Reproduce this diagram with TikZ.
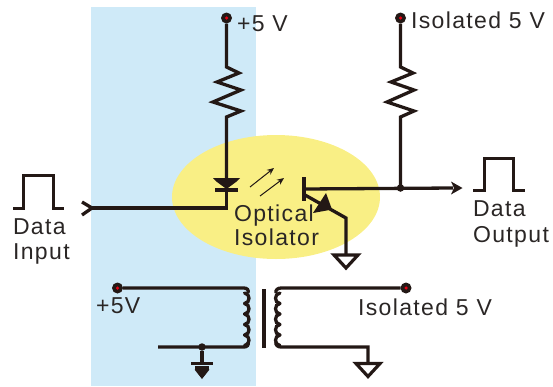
\documentclass[tikz,border=0pt]{standalone}
\usepackage{fontspec}
\setmainfont[LetterSpace=6]{Liberation Sans}
\usetikzlibrary{arrows.meta}
\definecolor{ink}{HTML}{231815}
\definecolor{txt}{HTML}{2A2625}
\definecolor{bluebg}{HTML}{CFEAF8}
\definecolor{yellowbg}{HTML}{F9EF85}
\definecolor{termred}{HTML}{E60012}
\tikzset{
  wire/.style={draw=ink,line width=3.3pt,line join=miter},
  lbl/.style={anchor=base west,inner sep=0pt,outer sep=0pt,font=\fontsize{23}{23}\selectfont,text=txt},
  term/.style={circle,fill=ink,minimum size=11pt,inner sep=0pt,outer sep=0pt},
  termdot/.style={circle,fill=termred,minimum size=3.5pt,inner sep=0pt},
  jct/.style={circle,fill=ink,minimum size=7.5pt,inner sep=0pt,outer sep=0pt},
  lightarrow/.style={draw=ink,line width=1pt,-{Stealth[length=7pt,width=6pt]}},
  hollowgnd/.style={draw=ink,line width=3.2pt,fill=white,line join=miter}
}
\begin{document}
\begin{tikzpicture}[x=1pt,y=-1pt]
\useasboundingbox (0,0) rectangle (553,386);
\fill[bluebg] (91,7) rectangle (256,386);
\fill[yellowbg] (276,197) ellipse [x radius=104,y radius=62];

% supply terminals
\node[term] (vcc) at (226.5,18) {};
\node[termdot] at (vcc) {};
\node[term] (iso) at (400.5,18) {};
\node[termdot] at (iso) {};
\node[term] (vcct) at (117.5,288) {};
\node[termdot] at (vcct) {};
\node[term] (isot) at (406,288) {};
\node[termdot] at (isot) {};

% input resistor and LED
\coordinate (r1a) at (226.5,67);
\coordinate (led) at (226.5,178);
\coordinate (ledout) at (226.5,208);
\coordinate (inp) at (92,208);
\draw[wire] (vcc) -- (r1a) -- (239,73) -- (217,82) -- (241,90) -- (213,102) -- (241,111) -- (226.5,117) -- (led);
\fill[ink] (213,178) -- (240,178) -- (236,182) -- (226.5,189) -- (217,182) -- cycle;
\draw[ink,line width=3.6pt] (215,190) -- (238,190);
\draw[wire] (226.5,190) -- (ledout) -- (inp);
\draw[wire] (82,202) -- (inp) -- (82,215);

% light arrows
\coordinate (la1) at (250,187);
\coordinate (lb1) at (274,168);
\coordinate (la2) at (260,196);
\coordinate (lb2) at (284,178);
\draw[lightarrow] (la1) -- (lb1);
\draw[lightarrow] (la2) -- (lb2);

% phototransistor
\coordinate (base) at (304,189);
\coordinate (basetop) at (304,177);
\coordinate (basebot) at (304,201);
\coordinate (outj) at (400.5,188);
\coordinate (outend) at (453,188);
\coordinate (emit) at (346,218);
\coordinate (gnd1) at (346,255);
\draw[ink,line width=3.6pt] (basetop) -- (basebot);
\draw[wire] (base) -- (outend);
\fill[ink] (451,181.5) -- (462.5,188) -- (451,194.5) -- (454,188) -- cycle;
\draw[wire] (305,195) -- (emit) -- (gnd1);
\fill[ink] (326,193) -- (313,213) -- (332,209.5) -- cycle;
\draw[hollowgnd] (334,255) -- (358,255) -- (346,268) -- cycle;

% output resistor
\draw[wire] (iso) -- (400.5,67) -- (413,73) -- (391,82) -- (414,90) -- (387,102) -- (414,111) -- (400.5,117) -- (outj);
\node[jct] (oj) at (outj) {};

% pulses
\draw[wire,line width=3pt] (13,208) -- (23.5,208) -- (23.5,175) -- (53,175) -- (53,208) -- (64,208);
\draw[wire,line width=3pt] (473,190) -- (484,190) -- (484,158) -- (513,158) -- (513,190) -- (525,190);

% transformer primary
\coordinate (pb) at (158,347);
\draw[wire] (vcct) -- (244,288) .. controls (247,288) and (249,290) .. (248,293);
\foreach \y in {293,303.5,314,324.5,335}{
  \draw[wire,line cap=round] (244.5,\y) .. controls (250.5,{\y+0.5}) and (250.5,{\y+10}) .. (244.5,{\y+10.5});
}
\draw[wire] (pb) -- (244,347) .. controls (247,347) and (249,345) .. (248,342);
\node[jct] (gj) at (202,347) {};
\draw[wire] (gj) -- (202,363);
\fill[ink] (191,361.5) rectangle (213,365);
\fill[ink] (195,365.5) rectangle (209,369.5);
\fill[ink] (194.5,369.5) -- (209.5,369.5) -- (202,379) -- cycle;

% core
\coordinate (ct) at (264,289);
\coordinate (cb) at (264,348);
\draw[ink,line width=3.6pt] (ct) -- (cb);

% secondary
\coordinate (sc) at (368,347);
\draw[wire] (isot) -- (281,288) .. controls (278,288) and (275,290) .. (276,293);
\foreach \y in {293,303.5,314,324.5,335}{
  \draw[wire,line cap=round] (280,\y) .. controls (274,{\y+0.5}) and (274,{\y+10}) .. (280,{\y+10.5});
}
\draw[wire] (276,342) .. controls (275,345) and (278,347) .. (281,347) -- (sc) -- (368,363);
\draw[hollowgnd] (356,363.5) -- (380,363.5) -- (368,376.5) -- cycle;

% labels
\node[lbl] (l1) at (237,31) {+5 V};
\node[lbl] (l2) at (411,28) {Isolated 5 V};
\node[lbl] (l3) at (13,234) {Data};
\node[lbl] (l4) at (13,259) {Input};
\node[lbl] (l5) at (473,216) {Data};
\node[lbl] (l6) at (473,242) {Output};
\node[lbl] (l7) at (234,221) {Optical};
\node[lbl] (l8) at (234,245) {Isolator};
\node[lbl] (l9) at (96,313) {+5V};
\node[lbl] (l10) at (358,315) {Isolated 5 V};
\end{tikzpicture}
\end{document}
